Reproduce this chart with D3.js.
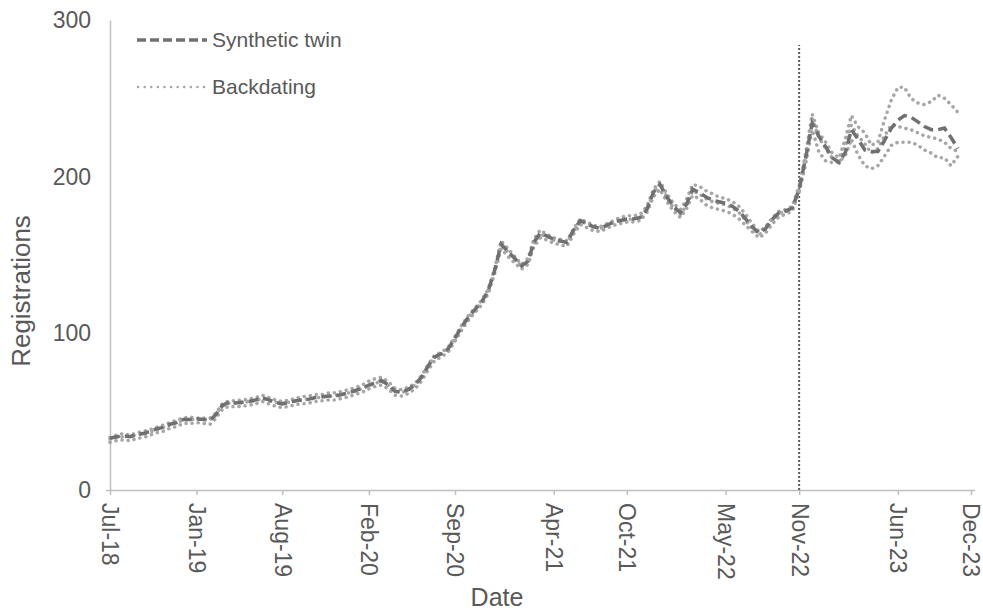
<!DOCTYPE html>
<html>
<head>
<meta charset="utf-8">
<script src="https://cdn.jsdelivr.net/npm/d3@7"></script>
<style>
body{margin:0;background:#fff;}
text{font-family:"Liberation Sans",Arial,sans-serif;}
</style>
</head>
<body>
<div class="container"></div>
<script>
// x ticks, every 6.5 months from Jul-18
const tickDates = ["2018-07-01","2019-01-16","2019-08-01","2020-02-16","2020-09-01","2021-04-16","2021-10-01","2022-05-16","2022-11-01","2023-06-16","2023-12-01"]
const tickLabels = ["Jul-18","Jan-19","Aug-19","Feb-20","Sep-20","Apr-21","Oct-21","May-22","Nov-22","Jun-23","Dec-23"]
const yTicks = [0,100,200,300]
const interventionDate = "2022-11-01"
const interventionTop = 284

// semi-monthly observations (1st and 16th), Jul 2018 .. Nov 2023
const twin = [33,34,34.5,34,35.5,36,37.5,39,40,42,
  43,45,45,45.5,45,44.5,48,54,56,55.5,
  56,56.5,57.5,59,57.5,56,55,56,57,57.5,
  58,59,59.5,60,60,61,62,63.5,65,67,
  68.5,70,67,63,62.5,64,67,72,79,85,
  87,90,97,104,110,115,120,127,140,157,
  152,148,143,146,158,164,162,160,159,158,
  166,172,170,168,167,169,171,172,173,173,
  174,179,190,195,187,181,177,183,192,190,
  187,185,184,183,181,178,173,168,164,167,
  173,177,178,180,192,212,234,226,219,212,
  209,216,230,224,217,216,216,223,231,236,
  239,238,235,232,230,230,231,225,218]

const backdatingHigh = [33.5,35,36,35,36.5,37.5,38.5,40,41.5,43,
  44.5,46,46.5,46,46,46,49,55,57,57,
  57.5,58,59,60.5,59,57.5,56.5,57.5,58.5,59.5,
  60,61,61,62,62,63,64,65.5,67,69.5,
  71,72,69,65,64,65.5,68,73,80,86,
  88,91,98,105,111,116,121,128,141,159,
  154,149,144,148,160,166,163,161,160,159,
  167,173,171,169,168,170,172,174,175,175,
  176,181,192,197,189,183,179,186,195,194,
  191,189,187,186,184,181,176,170,165,168,
  174,178,179,181,194,215,240,228,222,215,
  212,225,239,232,228,220,222,236,249,257,
  257,250,247,246,248,252,250,246,241]

const backdatingMid = [32.5,33.5,34,34.5,35,36,37,38.5,40,41.5,
  43,44.5,45,45,45,45,48.5,53.5,55.5,55.5,
  55.5,56.5,57,58.5,57,56,55.5,56,56.5,57.5,
  58,58.5,59.5,59.5,60.5,61,62,63,65,66.5,
  68,69.5,66.5,63,62,64,67,71.5,79,84.5,
  87,90,96.5,104,110,114.5,120,127,140,156,
  152,147,143,146,157,163,162,159.5,158.5,158,
  165.5,171.5,170,168,167,168.5,171,172,172.5,173,
  174,179,190,195,187,180,176,182,191,189,
  186,184,183,182,180,177,172,167,163,166,
  172,176.5,178,180,192,213,237,225,218,212,
  209,220,233,226,221,215,218,226,233,232,
  231,230,228,226,225,224,222,218,216]

const backdatingLow = [30.5,31.5,32,31.5,33,33.5,35,36.5,37.5,39.5,
  40.5,42.5,42.5,43,42.5,42,45.5,51.5,53.5,53,
  53.5,54,55,56.5,55,53.5,52.5,53.5,54.5,55,
  55.5,56.5,57,57.5,57.5,58.5,59.5,61,62.5,64.5,
  66,67,64.5,60.5,60,61.5,64.5,69.5,76.5,82.5,
  85,88,95,102,108,113,118,125,138,154,
  149,145,141,144,155,161,159.5,157.5,156.5,155.5,
  163.5,169.5,167.5,165.5,165,167,169,170,171,171,
  172,177,187,192,184,178,174,180,188,186,
  182,180,179,178,176,173,169,165,161,164,
  170,174.5,176,178,190,208,230,216,210,209,
  209,214,224,214,207,205,207,213,220,222,
  222,222,220,217,215,212,212,207,213]

const dates = d3.range(twin.length).map(i => new Date(2018, 6 + Math.floor(i/2), i%2 ? 16 : 1))

const width = 983
const height = 612
const textColor = "#595959"
const axisColor = "#bfbfbf"

const parse = d3.timeParse("%Y-%m-%d")
const xScale = d3.scaleTime()
    .domain([parse(tickDates[0]), parse(tickDates[tickDates.length-1])])
    .range([110,971])
const yScale = d3.scaleLinear()
    .domain([0,300])
    .range([490,20])

const svg = d3.select(".container").append("svg").attr("width",width).attr("height",height)

// axes
const xAxis = d3.axisBottom(xScale)
    .tickValues(tickDates.map(parse))
    .tickFormat((d,i)=> tickLabels[i])
    .tickSize(5)
    .tickSizeOuter(0)
const gx = svg.append("g")
    .attr("transform","translate(0,"+yScale(0)+")")
    .call(xAxis)
gx.select(".domain").attr("stroke",axisColor).attr("stroke-width",1.5).attr("d","M106,0.5H975")
gx.selectAll(".tick line").attr("stroke",axisColor).attr("stroke-width",1.5)
gx.selectAll(".tick text")
    .attr("transform","rotate(90)")
    .attr("x",13)
    .attr("y",0)
    .attr("dy","0.35em")
    .style("text-anchor","start")
    .style("font-size","23px")
    .attr("fill",textColor)

const yAxis = d3.axisLeft(yScale)
    .tickValues(yTicks)
    .tickSize(0)
    .tickSizeOuter(0)
    .tickPadding(19)
const gy = svg.append("g")
    .attr("transform","translate(110,0)")
    .call(yAxis)
gy.select(".domain").attr("stroke",axisColor).attr("stroke-width",1.5)
gy.selectAll(".tick text").style("font-size","23px").attr("fill",textColor)

svg.append("text")
    .text("Registrations")
    .attr("transform","translate(30,291) rotate(-90)")
    .style("text-anchor","middle")
    .style("font-size","26px")
    .attr("fill",textColor)
svg.append("text")
    .text("Date")
    .attr("x",497)
    .attr("y",606)
    .style("text-anchor","middle")
    .style("font-size","25px")
    .attr("fill",textColor)

// intervention marker
svg.append("line")
    .attr("x1",xScale(parse(interventionDate)))
    .attr("x2",xScale(parse(interventionDate)))
    .attr("y1",yScale(0))
    .attr("y2",yScale(interventionTop))
    .attr("stroke","#595959")
    .attr("stroke-width",2)
    .attr("stroke-dasharray","2,2")

const line = d3.line()
    .x((d,i)=> xScale(dates[i]))
    .y(d=> yScale(d))

const backdating = [backdatingHigh, backdatingMid, backdatingLow]
svg.selectAll(".backdating")
    .data(backdating)
    .enter()
    .append("path")
    .attr("class","backdating")
    .attr("d",d=> line(d))
    .attr("fill","none")
    .attr("stroke","#a6a6a6")
    .attr("stroke-width",3.5)
    .attr("stroke-linecap","round")
    .attr("stroke-dasharray","0.1,6")

svg.append("path")
    .attr("d",line(twin))
    .attr("fill","none")
    .attr("stroke","#707070")
    .attr("stroke-width",3.5)
    .attr("stroke-dasharray","10,5")

// legend
const legend = svg.append("g")
legend.append("line")
    .attr("x1",137).attr("x2",207).attr("y1",40).attr("y2",40)
    .attr("stroke","#707070").attr("stroke-width",3.5).attr("stroke-dasharray","9,4")
legend.append("text").text("Synthetic twin")
    .attr("x",212).attr("y",47).style("font-size","21px").attr("fill",textColor)
legend.append("line")
    .attr("x1",138).attr("x2",207).attr("y1",87).attr("y2",87)
    .attr("stroke","#a6a6a6").attr("stroke-width",2.5).attr("stroke-linecap","round").attr("stroke-dasharray","0.1,6.5")
legend.append("text").text("Backdating")
    .attr("x",212).attr("y",94).style("font-size","21px").attr("fill",textColor)
</script>
</body>
</html>
